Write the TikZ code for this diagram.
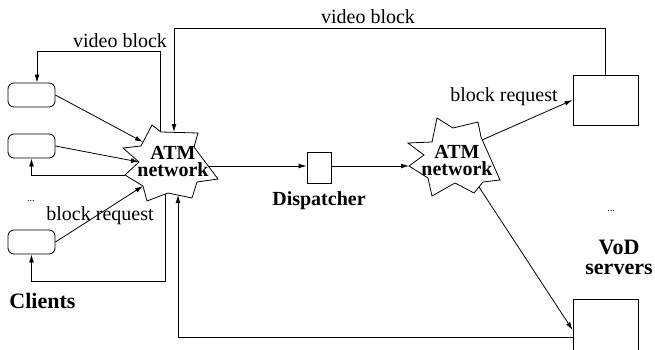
\documentclass[tikz,border=0pt]{standalone}
\usepackage{fontspec}
\setmainfont{Liberation Serif}
\usetikzlibrary{arrows.meta,positioning}

\begin{document}
\begin{tikzpicture}[
    x=0.5pt, y=-0.5pt,
    client/.style={rectangle, rounded corners=3pt, draw, minimum width=23.5pt, minimum height=12pt, inner sep=0pt},
    server/.style={rectangle, draw, minimum width=32.5pt, minimum height=25pt, inner sep=0pt},
    dispbox/.style={rectangle, draw, minimum width=12pt, minimum height=15.5pt, inner sep=0pt},
    cloudtext/.style={font=\bfseries\fontsize{10}{8.5}\selectfont, align=center, inner sep=0pt},
    lbl/.style={font=\fontsize{10}{12}\selectfont, inner sep=0pt},
    heading/.style={font=\bfseries\fontsize{11}{10}\selectfont, align=center, inner sep=0pt},
    dots/.style={font=\tiny, inner sep=0pt},
    arrow/.style={-{Latex[length=4pt, width=2.4pt]}}
]
\clip (0,0) rectangle (655,349);

% clients
\node[client] (cl1) at (31.5,95) {};
\node[client] (cl2) at (31.5,146) {};
\node[client] (cl3) at (31.5,242) {};
\node[dots] (cldots) at (31,201) {...};
\node[heading, anchor=west] (clients) at (9,301) {Clients};

% first ATM network
\draw (152,125) -- (161,132) -- (198,133) -- (194,147) -- (218,179) -- (197,182) -- (192,198)
  -- (168,193) -- (147,201) -- (143,186) -- (125,175) -- (139,162) -- (123,148) -- (141,146) -- cycle;
\node[cloudtext] (atm1) at (173,161) {ATM\\network};
\coordinate (s1top) at (160,131);
\coordinate (s1in) at (174,132);
\coordinate (s1c1) at (143,142);
\coordinate (s1c2) at (139,162);
\coordinate (s1o2) at (125,175);
\coordinate (s1c3) at (143,186);
\coordinate (s1o3) at (165,194);
\coordinate (s1ret) at (178,195);
\coordinate (s1r) at (208,166);

% dispatcher
\node[dispbox] (dispatcher) at (319,168) {};
\node[heading, font=\bfseries\fontsize{10}{12}\selectfont, below=3.5pt of dispatcher] (displbl) {Dispatcher};

% second ATM network
\draw (437,118) -- (453,128) -- (478,122) -- (481,137) -- (500,180) -- (483,182) -- (474,193)
  -- (455,183) -- (432,196) -- (428,178) -- (409,166) -- (424,155) -- (408,143) -- (432,142) -- cycle;
\node[cloudtext] (atm2) at (457,160) {ATM\\network};
\coordinate (s2l) at (409,166);
\coordinate (s2a) at (482,140);
\coordinate (s2b) at (479,187);

% servers
\node[server] (srv1) at (605.5,100) {};
\node[server, minimum height=31pt] (srv2) at (605.5,330) {};
\node[dots] (srvdots) at (611,211) {...};
\node[heading] (vod) at (619,257) {VoD\\servers};

% connectors
\draw[arrow] (cl1.east) -- (s1c1);
\draw[arrow] (cl2.east) -- (s1c2);
\draw[arrow] (cl3.east) -- (s1c3);
\draw[arrow] (s1top) -- (160,51) -| ([xshift=2.75pt]cl1.north);
\draw[arrow] (s1o2) -| (cl2.south);
\draw[arrow] (s1o3) -- (165,281) -| (cl3.south);
\draw[arrow] (srv1.north) |- (174,28) -- (s1in);
\draw[arrow] (s1r) -- (s1r -| dispatcher.west);
\draw[arrow] (dispatcher.east |- s1r) -- (s2l);
\draw[arrow] (s2a) -- (srv1.west);
\draw[arrow] (s2b) -- (srv2.west);
\draw[arrow] ([yshift=-3.5pt]srv2.west) -| (s1ret);

% labels
\node[lbl] (vb1) at (120,41) {video block};
\node[lbl] (vb2) at (368,17) {video block};
\node[lbl] (br1) at (100,216) {block request};
\node[lbl] (br2) at (504,97) {block request};
\end{tikzpicture}
\end{document}
